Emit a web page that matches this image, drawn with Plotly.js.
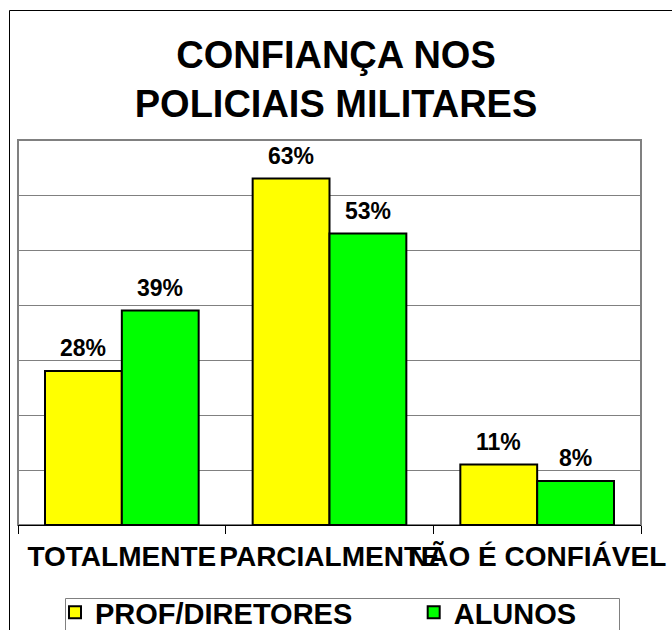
<!DOCTYPE html>
<html>
<head>
<meta charset="utf-8">
<script src="https://cdn.plot.ly/plotly-3.0.1.min.js"></script>
<style>html,body{margin:0;padding:0;background:#fff;}#chart{width:672px;height:630px;}</style>
</head>
<body>
<div id="chart"></div>
<script>
// ---- data ----
const categories = ["TOTALMENTE", "PARCIALMENTE", "NÃO É CONFIÁVEL"];
const seriesNames = ["PROF/DIRETORES", "ALUNOS"];
const profDiretores = [28, 63, 11];
const alunos = [39, 53, 8];
const chartTitle = "CONFIANÇA NOS<br>POLICIAIS MILITARES";

// ---- layout constants ----
const W = 672, H = 630;
const M = {l: 18, r: 31, t: 140, b: 105};
const plotW = W - M.l - M.r, plotH = H - M.t - M.b;
const bargap = 0.26;
const barPx = plotW / categories.length * (1 - bargap) / 2;
const FONT = '"Liberation Sans", Arial, Helvetica, sans-serif';
const px2x = p => (p - M.l) / plotW;
const py2y = p => (H - M.b - p) / plotH;
const NBSP = '\u00a0';

const series = [profDiretores, alunos];
const colors = ["#FFFF00", "#00FF00"];

const traces = series.map((vals, k) => ({
  type: 'bar',
  name: seriesNames[k] + (k === 0 ? NBSP.repeat(7) : ''),
  x: categories,
  y: vals,
  marker: {color: colors[k], line: {color: '#000000', width: 2}},
  hoverinfo: 'skip'
}));

const annotations = [];
series.forEach((vals, k) => {
  vals.forEach((v, i) => {
    annotations.push({
      x: categories[i], y: v, xref: 'x', yref: 'y',
      text: v + '%', showarrow: false,
      xanchor: 'center', yanchor: 'bottom',
      xshift: (k === 0 ? -1 : 1) * barPx / 2,
      yshift: 8,
      font: {family: FONT, size: 23, color: '#000', weight: 'bold'}
    });
  });
});

const layout = {
  width: W, height: H,
  margin: {l: M.l, r: M.r, t: M.t, b: M.b, autoexpand: false},
  paper_bgcolor: '#ffffff', plot_bgcolor: '#ffffff',
  font: {family: FONT, color: '#000'},
  title: {
    text: chartTitle,
    x: 0.5, xref: 'container', xanchor: 'center',
    y: 1 - 68 / H, yref: 'container', yanchor: 'middle',
    font: {family: FONT, size: 38, color: '#000', weight: 'bold'}
  },
  barmode: 'group', bargap: bargap, bargroupgap: 0,
  showlegend: true,
  legend: {
    orientation: 'h', xref: 'paper', yref: 'paper',
    x: px2x(55), xanchor: 'left', y: py2y(587), yanchor: 'top',
    borderwidth: 0, bgcolor: 'rgba(0,0,0,0)',
    font: {family: FONT, size: 29, color: '#000', weight: 'bold'},
    itemclick: false, itemdoubleclick: false
  },
  xaxis: {
    type: 'category',
    showline: true, linecolor: '#000000', linewidth: 1,
    ticks: 'outside', tickson: 'boundaries', ticklen: 8, tickcolor: '#000000', tickwidth: 1,
    tickangle: 0, ticklabelstandoff: 6,
    tickfont: {family: FONT, size: 28, color: '#000', weight: 'bold'},
    showgrid: false, zeroline: false, fixedrange: true
  },
  yaxis: {
    range: [0, 70], dtick: 10, showticklabels: false, ticks: '',
    showgrid: true, gridcolor: '#808080', gridwidth: 1,
    zeroline: false, showline: false, fixedrange: true
  },
  shapes: [
    // outer chart-area frame
    {type: 'rect', xref: 'paper', yref: 'paper', layer: 'below',
     x0: px2x(9.5), x1: px2x(W + 20), y0: py2y(H + 20), y1: py2y(10.5),
     line: {color: '#000000', width: 1}, fillcolor: 'rgba(0,0,0,0)'},
    // plot-area border
    {type: 'rect', xref: 'paper', yref: 'paper', layer: 'below',
     x0: 0, x1: 1, y0: 0, y1: 1,
     line: {color: '#808080', width: 2}, fillcolor: 'rgba(0,0,0,0)'},
    // legend box
    {type: 'rect', xref: 'paper', yref: 'paper', layer: 'below',
     x0: px2x(65.5), x1: px2x(619.5), y0: py2y(H + 20), y1: py2y(598.5),
     line: {color: '#808080', width: 1}, fillcolor: 'rgba(0,0,0,0)'}
  ],
  annotations: annotations
};

Plotly.newPlot('chart', traces, layout, {displayModeBar: false, staticPlot: true});
</script>
</body>
</html>
